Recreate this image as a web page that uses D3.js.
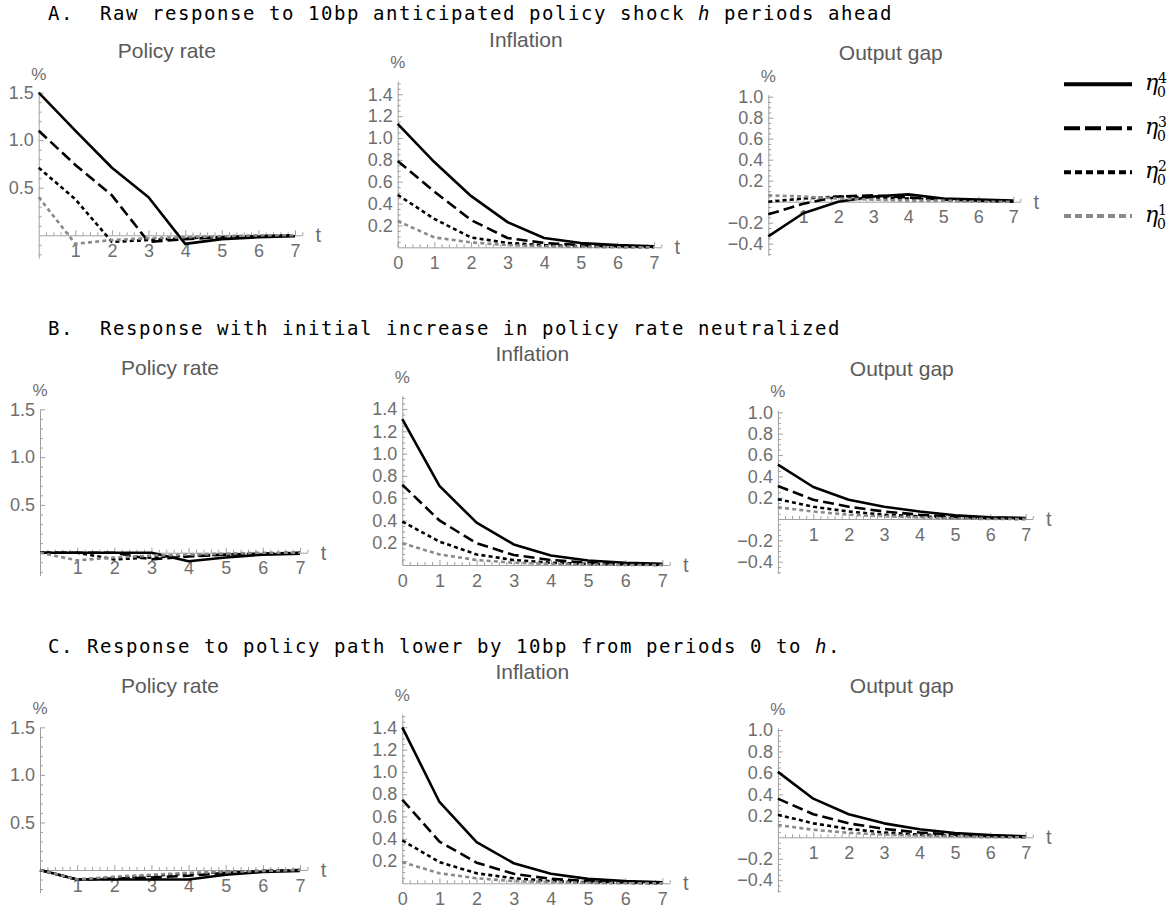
<!DOCTYPE html>
<html>
<head>
<meta charset="utf-8">
<script src="https://cdn.jsdelivr.net/npm/d3@7"></script>
<style>
  html, body { margin: 0; padding: 0; background: #fff; }
  svg { display: block; }
  .sec { font-family: "DejaVu Sans Mono", monospace; font-size: 19px; letter-spacing: 1.56px; fill: #000; }
  .ptitle { font-family: "Liberation Sans", Arial, sans-serif; font-size: 21px; fill: #5a5a5a; }
  .unit, .tlab { font-family: "Liberation Sans", Arial, sans-serif; fill: #6e6e6e; }
  .axis text { font-family: "Liberation Sans", Arial, sans-serif; font-size: 18px; fill: #6e6e6e; }
  .axis path, .axis line { stroke: #a0a0a0; stroke-width: 1; }
  .leg { font-family: "DejaVu Serif", serif; font-style: italic; fill: #000; }
</style>
</head>
<body>
<script>
// Periods on the horizontal axis
const periods = [0, 1, 2, 3, 4, 5, 6, 7];

// Series labels: eta_0^h for h = 4, 3, 2, 1
const seriesSup = ["4", "3", "2", "1"];

// A. Raw response to anticipated shock
const aPolicy4 = [1.5, 1.1, 0.71, 0.4, -0.09, -0.04, -0.02, -0.01];
const aPolicy3 = [1.1, 0.74, 0.42, -0.07, -0.04, -0.02, -0.01, 0];
const aPolicy2 = [0.71, 0.38, -0.07, -0.05, -0.03, -0.02, -0.01, 0];
const aPolicy1 = [0.4, -0.09, -0.05, -0.03, -0.02, -0.01, 0, 0];

const aInfl4 = [1.13, 0.78, 0.47, 0.23, 0.085, 0.04, 0.02, 0.01];
const aInfl3 = [0.79, 0.51, 0.25, 0.085, 0.04, 0.02, 0.01, 0.005];
const aInfl2 = [0.48, 0.26, 0.09, 0.04, 0.02, 0.01, 0.005, 0];
const aInfl1 = [0.24, 0.09, 0.045, 0.02, 0.01, 0.005, 0, 0];

const aOut4 = [-0.33, -0.11, 0.0, 0.05, 0.07, 0.03, 0.02, 0.01];
const aOut3 = [-0.12, -0.02, 0.05, 0.06, 0.04, 0.02, 0.01, 0];
const aOut2 = [0.0, 0.03, 0.05, 0.04, 0.03, 0.02, 0.01, 0];
const aOut1 = [0.06, 0.05, 0.03, 0.02, 0.01, 0.01, 0, 0];

// B. Initial increase in policy rate neutralized
const bPolicy4 = [0, 0, 0, 0, -0.09, -0.05, -0.02, -0.01];
const bPolicy3 = [0, 0, 0, -0.07, -0.04, -0.02, -0.01, 0];
const bPolicy2 = [0, 0, -0.07, -0.05, -0.03, -0.02, -0.01, 0];
const bPolicy1 = [0, -0.08, -0.05, -0.03, -0.02, -0.01, 0, 0];

const bInfl4 = [1.31, 0.71, 0.38, 0.185, 0.085, 0.04, 0.02, 0.01];
const bInfl3 = [0.72, 0.4, 0.195, 0.09, 0.045, 0.02, 0.01, 0.005];
const bInfl2 = [0.39, 0.21, 0.095, 0.045, 0.02, 0.01, 0.005, 0];
const bInfl1 = [0.195, 0.095, 0.045, 0.02, 0.01, 0.005, 0, 0];

const bOut4 = [0.51, 0.3, 0.18, 0.115, 0.07, 0.035, 0.015, 0.01];
const bOut3 = [0.31, 0.18, 0.115, 0.07, 0.04, 0.02, 0.01, 0.005];
const bOut2 = [0.185, 0.115, 0.07, 0.04, 0.025, 0.01, 0.005, 0];
const bOut1 = [0.11, 0.07, 0.04, 0.025, 0.015, 0.005, 0, 0];

// C. Policy path lower by 10bp from periods 0 to h
const cPolicy4 = [0, -0.1, -0.1, -0.1, -0.1, -0.05, -0.02, -0.01];
const cPolicy3 = [0, -0.1, -0.09, -0.08, -0.06, -0.03, -0.01, 0];
const cPolicy2 = [0, -0.1, -0.08, -0.06, -0.04, -0.02, -0.01, 0];
const cPolicy1 = [0, -0.1, -0.07, -0.05, -0.03, -0.02, -0.01, 0];

const cInfl4 = [1.4, 0.73, 0.37, 0.18, 0.085, 0.04, 0.02, 0.01];
const cInfl3 = [0.75, 0.375, 0.185, 0.085, 0.04, 0.02, 0.01, 0.005];
const cInfl2 = [0.385, 0.19, 0.09, 0.045, 0.02, 0.01, 0.005, 0];
const cInfl1 = [0.19, 0.09, 0.045, 0.02, 0.01, 0.005, 0, 0];

const cOut4 = [0.61, 0.36, 0.215, 0.13, 0.075, 0.04, 0.02, 0.01];
const cOut3 = [0.36, 0.215, 0.13, 0.078, 0.045, 0.025, 0.01, 0.005];
const cOut2 = [0.21, 0.13, 0.078, 0.045, 0.025, 0.015, 0.01, 0];
const cOut1 = [0.115, 0.07, 0.042, 0.025, 0.015, 0.01, 0, 0];

// Tick labels
const policyTicks = [0.5, 1.0, 1.5];
const inflTicks = [0.2, 0.4, 0.6, 0.8, 1.0, 1.2, 1.4];
const outTicks = [-0.4, -0.2, 0.2, 0.4, 0.6, 0.8, 1.0];
const periodTicksNoZero = [1, 2, 3, 4, 5, 6, 7];
const periodTicksAll = [0, 1, 2, 3, 4, 5, 6, 7];

// Panel titles
const panelTitles = ["Policy rate", "Inflation", "Output gap"];

// Section headings
const sections = [
  { lead: "A.  Raw response to 10bp anticipated policy shock ", ital: "h", tail: " periods ahead" },
  { lead: "B.  Response with initial increase in policy rate neutralized", ital: "", tail: "" },
  { lead: "C. Response to policy path lower by 10bp from periods 0 to ", ital: "h", tail: "." }
];

// ---------- layout ----------
const W = 1172, H = 909;
const svg = d3.select("body").append("svg").attr("width", W).attr("height", H);
svg.append("rect").attr("width", W).attr("height", H).attr("fill", "#fff");

const sectionBaselines = [20, 335, 653];
const kinds = {
  policy: { ext: [-0.24, 1.5], major: policyTicks, minorStep: 0.1, xt: periodTicksNoZero },
  infl:   { ext: [0, 1.52],    major: inflTicks,   minorStep: 0.05, xt: periodTicksAll },
  out:    { ext: [-0.51, 1.02], major: outTicks,   minorStep: 0.05, xt: periodTicksNoZero }
};

const panels = [
  { kind: "policy", title: 0, left: 38.7, right: 295,   zero: 235.3, unit: 95.1,  data: [aPolicy4, aPolicy3, aPolicy2, aPolicy1] },
  { kind: "infl",   title: 1, left: 397.7, right: 654,  zero: 247.3, unit: 109.3, data: [aInfl4, aInfl3, aInfl2, aInfl1] },
  { kind: "out",    title: 2, left: 768.3, right: 1013.3, zero: 201.7, unit: 105, data: [aOut4, aOut3, aOut2, aOut1] },
  { kind: "policy", title: 0, left: 40, right: 300,     zero: 552.7, unit: 95.6,  data: [bPolicy4, bPolicy3, bPolicy2, bPolicy1] },
  { kind: "infl",   title: 1, left: 402.3, right: 662.3, zero: 565, unit: 111.4,  data: [bInfl4, bInfl3, bInfl2, bInfl1] },
  { kind: "out",    title: 2, left: 777.9, right: 1025.7, zero: 519, unit: 106.7, data: [bOut4, bOut3, bOut2, bOut1] },
  { kind: "policy", title: 0, left: 40, right: 300,     zero: 870, unit: 95.1,    data: [cPolicy4, cPolicy3, cPolicy2, cPolicy1] },
  { kind: "infl",   title: 1, left: 402.3, right: 662.3, zero: 883.3, unit: 111.4, data: [cInfl4, cInfl3, cInfl2, cInfl1] },
  { kind: "out",    title: 2, left: 777.9, right: 1025.7, zero: 837.3, unit: 107.3, data: [cOut4, cOut3, cOut2, cOut1] }
];

const styles = [
  { color: "#000", dash: null },
  { color: "#000", dash: "11,5" },
  { color: "#000", dash: "4,3.2" },
  { color: "#8a8a8a", dash: "4,3.2" }
];

const fmt = v => (v < 0 ? "\u2212" : "") + Math.abs(v).toFixed(1);

// Section headings
sections.forEach((s, i) => {
  const t = svg.append("text").attr("class", "sec").attr("x", 48).attr("y", sectionBaselines[i])
    .attr("xml:space", "preserve").style("white-space", "pre");
  t.append("tspan").text(s.lead);
  if (s.ital) t.append("tspan").attr("font-style", "italic").text(s.ital);
  if (s.tail) t.append("tspan").text(s.tail);
});

function range(a, b, step) {
  const out = [];
  const n = Math.round((b - a) / step);
  for (let i = 0; i <= n; i++) out.push(+(a + i * step).toFixed(4));
  return out;
}

panels.forEach(p => {
  const k = kinds[p.kind];
  const g = svg.append("g");
  const x = d3.scaleLinear().domain([0, 7]).range([p.left, p.right]);
  const xa = x.copy().domain([0, 7.2]).range([p.left, x(7.2)]);
  const y = d3.scaleLinear().domain(k.ext).range([p.zero - k.ext[0] * p.unit, p.zero - k.ext[1] * p.unit]);

  // minor ticks
  const yMinor = range(Math.ceil(k.ext[0] / k.minorStep) * k.minorStep, k.ext[1], k.minorStep)
    .filter(v => !k.major.some(m => Math.abs(m - v) < 1e-6) && Math.abs(v) > 1e-6);
  const xMinor = range(0, 7.2, 0.2).filter(v => Math.abs(v - Math.round(v)) > 1e-6);

  g.append("g").attr("class", "axis").attr("transform", `translate(${p.left},0)`)
    .call(d3.axisLeft(y).tickValues(yMinor).tickSize(-3).tickSizeOuter(0).tickFormat(""))
    .call(a => a.select(".domain").remove());
  g.append("g").attr("class", "axis").attr("transform", `translate(0,${y(0)})`)
    .call(d3.axisBottom(xa).tickValues(xMinor).tickSize(-3).tickSizeOuter(0).tickFormat(""))
    .call(a => a.select(".domain").remove());

  // main axes
  g.append("g").attr("class", "axis").attr("transform", `translate(${p.left},0)`)
    .call(d3.axisLeft(y).tickValues(k.major).tickSize(-5).tickSizeOuter(0).tickPadding(5).tickFormat(fmt));
  g.append("g").attr("class", "axis").attr("transform", `translate(0,${y(0)})`)
    .call(d3.axisBottom(xa).tickValues(k.xt).tickSize(-5).tickSizeOuter(0).tickPadding(9).tickFormat(d3.format("d")));

  // axis labels
  const top = y(k.ext[1]);
  g.append("text").attr("class", "unit").attr("x", p.left).attr("y", top - 19)
    .attr("text-anchor", "middle").attr("dy", "0.35em").style("font-size", "17px").text("%");
  g.append("text").attr("class", "tlab").attr("x", xa(7.2) + 16).attr("y", y(0))
    .attr("text-anchor", "middle").attr("dy", "0.35em").style("font-size", "20px").text("t");
  g.append("text").attr("class", "ptitle").attr("x", (p.left + p.right) / 2).attr("y", top - 42)
    .attr("text-anchor", "middle").attr("dy", "0.35em").text(panelTitles[p.title]);

  // response lines
  const line = d3.line().x((d, i) => x(periods[i])).y(d => y(d));
  p.data.forEach((s, i) => {
    g.append("path").datum(s).attr("d", line)
      .attr("fill", "none").attr("stroke", styles[i].color).attr("stroke-width", 2.6)
      .attr("stroke-dasharray", styles[i].dash).attr("stroke-linejoin", "round");
  });
});

// Legend
const legY = [84.3, 128.3, 172.3, 216];
const legDash = [null, "16,5", "7,4", "7,4"];
seriesSup.forEach((s, i) => {
  const gy = legY[i];
  svg.append("line").attr("x1", 1064).attr("x2", 1132).attr("y1", gy).attr("y2", gy)
    .attr("stroke", styles[i].color).attr("stroke-width", 4).attr("stroke-dasharray", legDash[i]);
  const t = svg.append("g").attr("class", "leg");
  t.append("text").attr("x", 1145).attr("y", gy + 6).style("font-size", "22px").text("\u03B7");
  t.append("text").attr("x", 1158).attr("y", gy - 1).style("font-size", "14px").style("font-style", "normal").text(s);
  t.append("text").attr("x", 1157).attr("y", gy + 13).style("font-size", "14px").style("font-style", "normal").text("0");
});
</script>
</body>
</html>
